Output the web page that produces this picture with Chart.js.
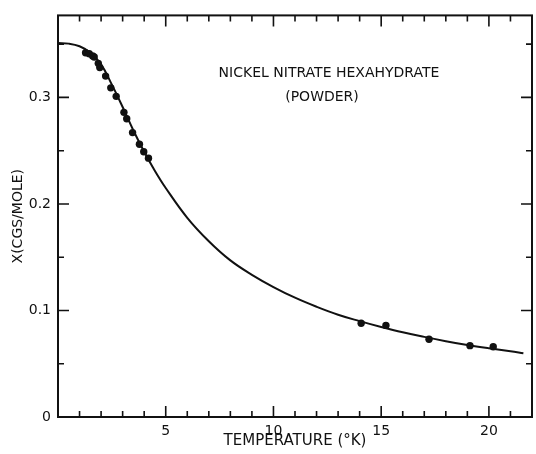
<!DOCTYPE html>
<html>
<head>
<meta charset="utf-8">
<script src="https://cdn.jsdelivr.net/npm/chart.js@4/dist/chart.umd.min.js"></script>
<style>
  html, body { margin: 0; padding: 0; background: #fff; }
  #wrap { width: 536px; height: 454px; }
</style>
</head>
<body>
<div id="wrap"><canvas id="chiChart" width="536" height="454"></canvas></div>
<script>
// measured points, temperature (K) vs susceptibility
const measuredT = [1.28, 1.45, 1.61, 1.68, 1.87, 1.94, 2.21, 2.45, 2.70, 3.06, 3.19, 3.46, 3.78, 3.98, 4.20,
  14.07, 15.22, 17.22, 19.12, 20.2];
const measuredChi = [0.342, 0.341, 0.339, 0.338, 0.332, 0.328, 0.320, 0.309, 0.301, 0.286, 0.280, 0.267, 0.256, 0.249, 0.243,
  0.088, 0.086, 0.073, 0.067, 0.066];

// theoretical curve
const curveT = [0, 0.5, 1.0, 1.5, 2.0, 2.5, 3.0, 3.5, 4.0, 4.5, 5.0, 6.0, 7.0, 8.0, 9.0, 10.0, 11.0, 12.0, 13.0,
  14.0, 15.0, 16.0, 17.0, 18.0, 19.0, 20.0, 21.0, 21.6];
const curveChi = [0.351, 0.3505, 0.348, 0.342, 0.331, 0.312, 0.291, 0.269, 0.249, 0.231, 0.215, 0.187, 0.165, 0.147,
  0.1335, 0.122, 0.112, 0.1035, 0.096, 0.090, 0.0845, 0.0795, 0.0752, 0.0712, 0.0676, 0.0645, 0.0617, 0.0598];

const xTicks = [5, 10, 15, 20];
const yTicks = [0, 0.1, 0.2, 0.3];
const xMax = 22;
const yMax = 0.377;

const LETTER_FONT = "'DejaVu Sans', sans-serif";

function toXY(xs, ys) {
  return xs.map((v, i) => ({ x: v, y: ys[i] }));
}

const frameTicks = {
  id: "frameTicks",
  afterDatasetsDraw(chart) {
    const { ctx, chartArea: a, scales } = chart;
    const x = scales.x;
    const y = scales.y;
    ctx.save();
    ctx.strokeStyle = "#111";
    ctx.lineWidth = 2;
    ctx.strokeRect(a.left, a.top, a.right - a.left, a.bottom - a.top);

    ctx.lineWidth = 1.6;
    ctx.beginPath();
    for (let v = 1; v < xMax; v++) {
      const px = x.getPixelForValue(v);
      const len = v % 5 === 0 ? 11 : 6;
      ctx.moveTo(px, a.bottom);
      ctx.lineTo(px, a.bottom - len);
      ctx.moveTo(px, a.top);
      ctx.lineTo(px, a.top + len);
    }
    for (let i = 1; i * 0.05 < yMax; i++) {
      const py = y.getPixelForValue(i * 0.05);
      const len = i % 2 === 0 ? 11 : 6;
      ctx.moveTo(a.left, py);
      ctx.lineTo(a.left + len, py);
      ctx.moveTo(a.right, py);
      ctx.lineTo(a.right - len, py);
    }
    ctx.stroke();

    ctx.fillStyle = "#111";
    ctx.font = "14px " + LETTER_FONT;
    ctx.textAlign = "center";
    ctx.textBaseline = "middle";
    ctx.fillText("NICKEL NITRATE HEXAHYDRATE", 329, 73);
    ctx.fillText("(POWDER)", 322, 97);
    ctx.restore();
  },
};

function renderChiChart() {
  const ctx = document.getElementById("chiChart").getContext("2d");
  new Chart(ctx, {
    type: "scatter",
    data: {
      datasets: [
        {
          label: "curve",
          data: toXY(curveT, curveChi),
          showLine: true,
          borderColor: "#111",
          borderWidth: 2,
          pointRadius: 0,
          tension: 0.4,
        },
        {
          label: "measured",
          data: toXY(measuredT, measuredChi),
          backgroundColor: "#111",
          borderColor: "#111",
          pointRadius: 3.7,
          borderWidth: 0,
        },
      ],
    },
    options: {
      responsive: false,
      animation: false,
      layout: { padding: { left: 10, right: 3, top: 15, bottom: 4 } },
      plugins: {
        legend: { display: false },
        tooltip: { enabled: false },
      },
      scales: {
        x: {
          type: "linear",
          min: 0,
          max: xMax,
          grid: { display: false, drawTicks: false },
          border: { display: false },
          afterBuildTicks: (scale) => {
            scale.ticks = xTicks.map((v) => ({ value: v }));
          },
          afterFit: (scale) => {
            scale.height = 33;
          },
          ticks: {
            padding: 6,
            color: "#111",
            font: { family: LETTER_FONT, size: 14 },
            callback: (v) => String(v),
          },
          title: {
            display: true,
            text: "TEMPERATURE (°K)",
            color: "#111",
            font: { family: LETTER_FONT, size: 15 },
            padding: { top: 0, bottom: 0 },
          },
        },
        y: {
          type: "linear",
          min: 0,
          max: yMax,
          grid: { display: false, drawTicks: false },
          border: { display: false },
          afterBuildTicks: (scale) => {
            scale.ticks = yTicks.map((v) => ({ value: v }));
          },
          afterFit: (scale) => {
            scale.width = 48;
          },
          ticks: {
            padding: 7,
            color: "#111",
            font: { family: LETTER_FONT, size: 14 },
            callback: (v) => (v === 0 ? "0" : v.toFixed(1)),
          },
          title: {
            display: true,
            text: "X(CGS/MOLE)",
            color: "#111",
            font: { family: LETTER_FONT, size: 14 },
            padding: { top: 0, bottom: 0 },
          },
        },
      },
    },
    plugins: [frameTicks],
  });
}

document.addEventListener("DOMContentLoaded", renderChiChart);
</script>
</body>
</html>
